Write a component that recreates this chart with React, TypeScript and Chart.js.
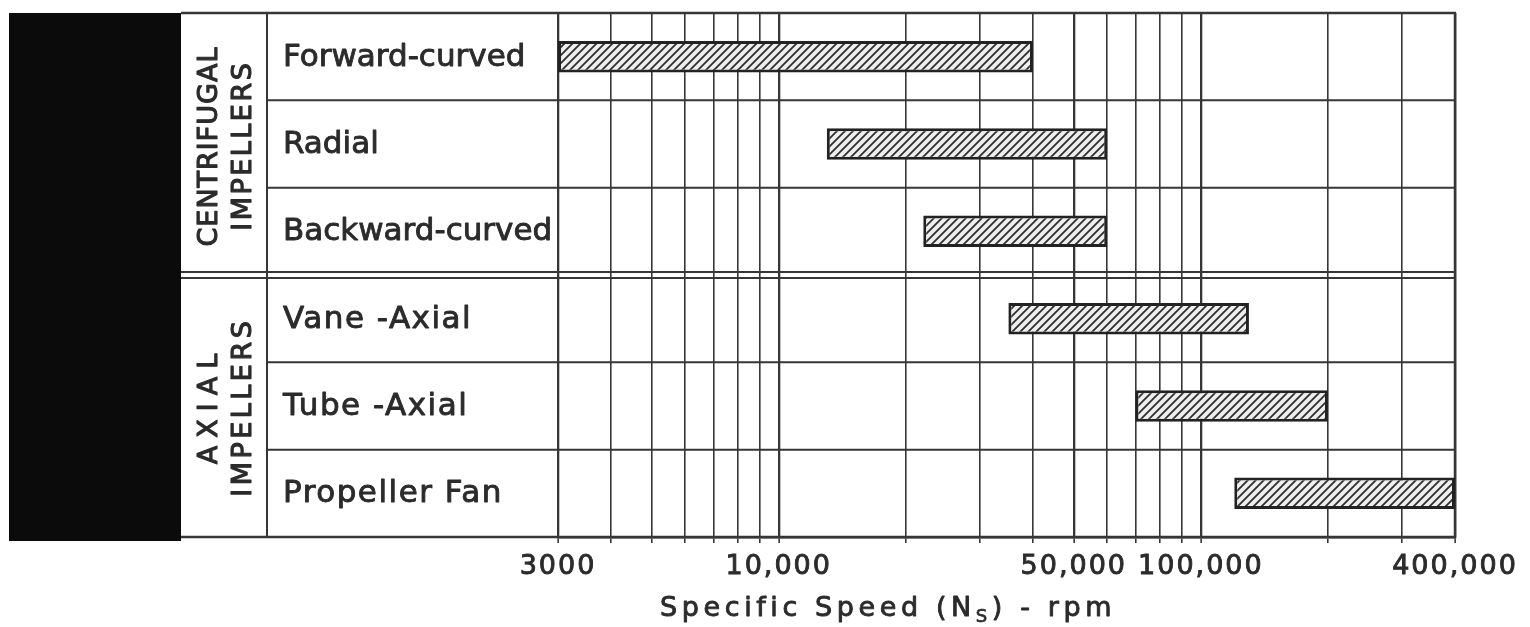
import React, { useEffect, useRef } from 'react';
import { Chart, registerables } from 'chart.js';

Chart.register(...registerables);

// ---- data ----
const CATEGORIES = ['Forward-curved', 'Radial', 'Backward-curved', 'Vane -Axial', 'Tube -Axial', 'Propeller Fan'];
const RANGE_START = [3000, 13000, 22000, 35000, 70000, 120000];
const RANGE_END = [40000, 60000, 60000, 130000, 200000, 400000];
const GROUP_NAMES = [['CENTRIFUGAL', 'IMPELLERS'], ['AXIAL', 'IMPELLERS']];
const GROUP_SIZES = [3, 3];
const AXIS_MIN = 3000;
const AXIS_MAX = 400000;
const GRID_TICKS = [3000, 4000, 5000, 6000, 7000, 8000, 9000, 10000, 20000, 30000, 40000, 50000, 60000, 70000, 80000, 90000, 100000, 200000, 300000, 400000];
const LABELED_TICKS = [3000, 10000, 50000, 100000, 400000];
const TICK_TEXT = ['3000', '10,000', '50,000', '100,000', '400,000'];
const AXIS_TITLE_MAIN = 'Specific Speed (N';
const AXIS_TITLE_SUB = 'S';
const AXIS_TITLE_REST = ') - rpm';

// ---- styles ----
const FONT = '"DejaVu Sans", sans-serif';
const INK = '#2b2b2b';
const LINE = '#363636';
const HEAVY_TICKS = [3000, 10000, 50000, 100000, 400000];

const drawText = (ctx: any, text: string, x: number, y: number, stroke = 0.9) => {
  ctx.fillText(text, x, y);
  ctx.lineWidth = stroke;
  ctx.strokeStyle = INK;
  ctx.lineJoin = 'round';
  ctx.strokeText(text, x, y);
};

const framePlugin = {
  id: 'frame',
  beforeDraw(chart: any) {
    const { ctx, chartArea: ca } = chart;
    ctx.save();
    ctx.fillStyle = '#ffffff';
    ctx.fillRect(0, 0, chart.width, chart.height);
    ctx.fillStyle = '#0b0b0b';
    ctx.fillRect(9, ca.top, 172, ca.bottom - ca.top + 4);
    ctx.restore();
    ctx.letterSpacing = '2px';
  },
  beforeDatasetsDraw(chart: any) {
    const { ctx, chartArea: ca, scales } = chart;
    ctx.letterSpacing = '0px';
    const y = scales.y;
    const n = CATEGORIES.length;
    ctx.save();
    ctx.strokeStyle = LINE;
    const hline = (yy: number, x0: number, x1: number, w: number) => {
      ctx.lineWidth = w;
      ctx.beginPath();
      ctx.moveTo(x0, yy);
      ctx.lineTo(x1, yy);
      ctx.stroke();
    };
    const vline = (xx: number, y0: number, y1: number, w: number) => {
      ctx.lineWidth = w;
      ctx.beginPath();
      ctx.moveTo(xx, y0);
      ctx.lineTo(xx, y1);
      ctx.stroke();
    };
    const groupEnds: number[] = [];
    let acc = 0;
    GROUP_SIZES.forEach((s) => { acc += s; groupEnds.push(acc); });
    for (let i = 1; i < n; i++) {
      const b = (y.getPixelForValue(i - 1) + y.getPixelForValue(i)) / 2;
      if (groupEnds.includes(i)) {
        hline(b - 3, 181, ca.right, 2);
        hline(b + 3, 181, ca.right, 2);
      } else {
        hline(b, 267, ca.right, 2);
      }
    }
    hline(ca.top, 181, ca.right + 1, 2.5);
    hline(ca.bottom, 181, ca.right + 1, 2.5);
    vline(267, ca.top, ca.bottom, 2);
    vline(ca.right, ca.top, ca.bottom, 2.5);
    ctx.restore();
  },
  afterDraw(chart: any) {
    const { ctx, chartArea: ca, scales } = chart;
    const y = scales.y;
    const n = CATEGORIES.length;
    const boundary = (i: number) => {
      if (i <= 0) return ca.top;
      if (i >= n) return ca.bottom;
      return (y.getPixelForValue(i - 1) + y.getPixelForValue(i)) / 2;
    };
    ctx.save();
    ctx.fillStyle = INK;
    ctx.textAlign = 'left';
    ctx.textBaseline = 'alphabetic';
    let start = 0;
    GROUP_SIZES.forEach((size, g) => {
      for (let k = 0; k < size; k++) {
        const i = start + k;
        ctx.font = `31px ${FONT}`;
        ctx.letterSpacing = g === 0 ? '0px' : '1.5px';
        drawText(ctx, CATEGORIES[i], 283, y.getPixelForValue(i) + 9);
      }
      // group labels, rotated
      const top = boundary(start);
      const bot = boundary(start + size);
      const cy = (top + bot) / 2 + 3;
      const names = GROUP_NAMES[g];
      const baseX = [217, 251];
      names.forEach((name, j) => {
        const sp = name.length <= 5 ? 8 : name === 'IMPELLERS' ? (g === 0 ? 2.5 : 3.5) : 1;
        ctx.save();
        ctx.font = `27px ${FONT}`;
        ctx.letterSpacing = `${sp}px`;
        ctx.textAlign = 'center';
        ctx.translate(baseX[j], cy);
        ctx.rotate(-Math.PI / 2);
        drawText(ctx, name, sp / 2, 0, 1.1);
        ctx.restore();
      });
      start += size;
    });
    // axis title with subscript
    ctx.letterSpacing = '4.6px';
    ctx.textAlign = 'left';
    let x = 660;
    ctx.font = `27px ${FONT}`;
    drawText(ctx, AXIS_TITLE_MAIN, x, 616);
    x += ctx.measureText(AXIS_TITLE_MAIN).width;
    ctx.font = `18px ${FONT}`;
    drawText(ctx, AXIS_TITLE_SUB, x, 622, 0.7);
    x += ctx.measureText(AXIS_TITLE_SUB).width;
    ctx.font = `27px ${FONT}`;
    drawText(ctx, AXIS_TITLE_REST, x, 616);
    ctx.letterSpacing = '0px';
    ctx.restore();
  },
};

export default function App() {
  const ref = useRef<HTMLCanvasElement>(null);
  useEffect(() => {
    const canvas = ref.current!;
    const pc = document.createElement('canvas');
    pc.width = 8;
    pc.height = 8;
    const p = pc.getContext('2d')!;
    p.fillStyle = '#eeeeee';
    p.fillRect(0, 0, 8, 8);
    p.strokeStyle = '#2e2e2e';
    p.lineWidth = 1.8;
    p.beginPath();
    p.moveTo(-2, 10); p.lineTo(10, -2);
    p.moveTo(-6, 6); p.lineTo(6, -6);
    p.moveTo(2, 14); p.lineTo(14, 2);
    p.stroke();
    const pattern = canvas.getContext('2d')!.createPattern(pc, 'repeat');

    const chart = new Chart(canvas, {
      type: 'bar',
      data: {
        labels: CATEGORIES,
        datasets: [
          {
            data: CATEGORIES.map((_, i) => [RANGE_START[i], RANGE_END[i]]) as any,
            backgroundColor: pattern as any,
            borderColor: '#222222',
            borderWidth: 3,
            borderSkipped: false,
            barPercentage: 0.36,
            categoryPercentage: 1,
          },
        ],
      },
      options: {
        indexAxis: 'y',
        animation: false,
        responsive: false,
        maintainAspectRatio: false,
        layout: { padding: { left: 558, top: 13, right: 75, bottom: 0 } },
        plugins: { legend: { display: false }, tooltip: { enabled: false }, title: { display: false } },
        scales: {
          y: { display: false, offset: true },
          x: {
            type: 'logarithmic',
            min: AXIS_MIN,
            max: AXIS_MAX,
            afterBuildTicks: (s: any) => { s.ticks = GRID_TICKS.map((v) => ({ value: v })); },
            afterFit: (s: any) => { s.height = 90; },
            ticks: {
              autoSkip: false,
              maxRotation: 0,
              minRotation: 0,
              padding: 8,
              color: INK,
              textStrokeColor: INK,
              textStrokeWidth: 0.9,
              font: { family: FONT, size: 27 },
              callback: (v: any) => {
                const i = LABELED_TICKS.indexOf(Number(v));
                return i >= 0 ? TICK_TEXT[i] : '';
              },
            },
            grid: {
              color: LINE,
              lineWidth: (c: any) => (c.tick && HEAVY_TICKS.includes(c.tick.value) ? 2.3 : 1.6),
              drawTicks: true,
              tickLength: 6,
              tickWidth: 1.6,
              tickColor: LINE,
            },
            border: { display: true, color: '#2a2a2a', width: 2.5 },
          },
        },
      },
      plugins: [framePlugin],
    });
    return () => chart.destroy();
  }, []);
  return (
    <div style={{ position: 'fixed', left: 0, top: 0, width: 1530, height: 627, background: '#fff' }}>
      <canvas ref={ref} width={1530} height={627} style={{ display: 'block', width: 1530, height: 627 }} />
    </div>
  );
}
